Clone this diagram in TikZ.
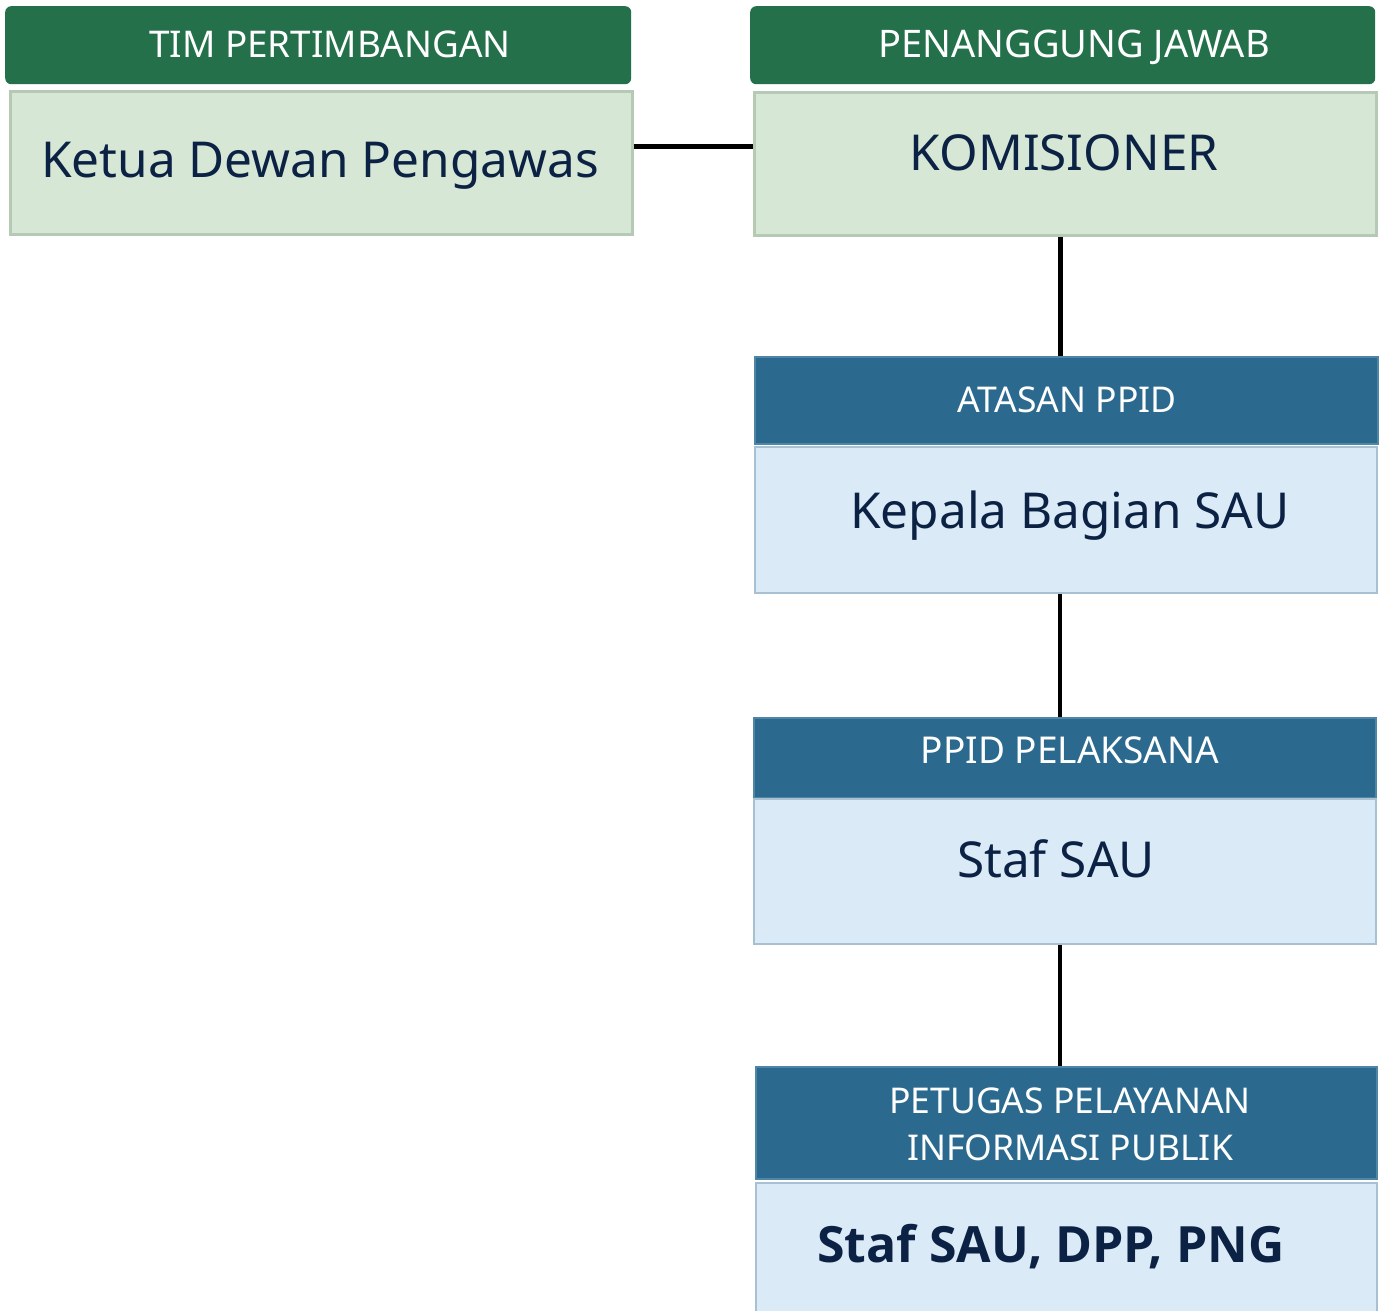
\documentclass[tikz,border=0pt]{standalone}
\usepackage{fontspec}
\setmainfont{Noto Sans}
\newfontfamily\boldfam{Open Sans}
\definecolor{hgreen}{HTML}{23704A}
\definecolor{bgreen}{HTML}{D6E8D5}
\definecolor{lgreen}{HTML}{B5C9B5}
\definecolor{hblue}{HTML}{2B6A8E}
\definecolor{hblueline}{HTML}{4F86A6}
\definecolor{bblue}{HTML}{DAEAF6}
\definecolor{lblue}{HTML}{A9BFD2}
\definecolor{navy}{HTML}{0C2244}
\begin{document}
\begin{tikzpicture}[x=1pt,y=-1pt,
  greenhead/.style={fill=hgreen, draw=none, rounded corners=6pt, anchor=north west, inner sep=0pt},
  greenbody/.style={fill=bgreen, draw=lgreen, line width=3pt, anchor=north west, inner sep=0pt},
  bluehead/.style={fill=hblue, draw=hblueline, line width=1.5pt, anchor=north west, inner sep=0pt},
  bluebody/.style={fill=bblue, draw=lblue, line width=2pt, anchor=north west, inner sep=0pt},
  headtxt/.style={text=white, anchor=base, inner sep=0pt, font=\fontsize{37.5}{44}\selectfont},
  bheadtxt/.style={text=white, anchor=base, inner sep=0pt, align=center, font=\fontsize{35.5}{47}\selectfont},
  bodytxt/.style={text=navy, anchor=base, inner sep=0pt, font=\fontsize{49.5}{56}\selectfont},
  conn/.style={draw=black, line width=4.5pt}
]
\useasboundingbox (0,0) rectangle (1381,1311);
\fill[white] (0,0) rectangle (1381,1311);

% boxes
\node[greenhead, minimum width=626, minimum height=78] (h1) at (5,6) {};
\node[greenbody, minimum width=622, minimum height=142] (b1) at (8.5,90.5) {};
\node[greenhead, minimum width=625, minimum height=78] (h2) at (750,6) {};
\node[greenbody, minimum width=622, minimum height=142] (b2) at (752.5,91.5) {};

\node[bluehead, minimum width=623, minimum height=87] (h3) at (754,356) {};
\node[bluebody, minimum width=622, minimum height=146] (b3) at (754,445.5) {};
\node[bluehead, minimum width=622, minimum height=80] (h4) at (753,717) {};
\node[bluebody, minimum width=622, minimum height=145] (b4) at (753,797.5) {};
\node[bluehead, minimum width=621, minimum height=112] (h5) at (755,1066) {};
\node[bluebody, minimum width=621, minimum height=140] (b5) at (755,1182) {};

% texts
\node[headtxt, font=\fontsize{36.8}{44}\selectfont] (t1) at (330,58) {TIM PERTIMBANGAN};
\node[bodytxt] (t2) at (320,177) {Ketua Dewan Pengawas};
\node[headtxt, font=\fontsize{38}{44}\selectfont] (t3) at (1074,58) {PENANGGUNG JAWAB};
\node[bodytxt] (t4) at (1064,170) {KOMISIONER};
\node[bheadtxt] (t5) at (1067,412) {ATASAN PPID};
\node[bodytxt] (t6) at (1070,528) {Kepala Bagian SAU};
\node[bheadtxt, font=\fontsize{37}{47}\selectfont] (t7) at (1070,763) {PPID PELAKSANA};
\node[bodytxt] (t8) at (1056,877) {Staf SAU};
\node[bheadtxt, anchor=north] (t9) at (1070,1088) {PETUGAS PELAYANAN\\INFORMASI PUBLIK};
\node[bodytxt, font=\boldfam\bfseries\fontsize{50}{56}\selectfont] (t10) at (1051,1262) {Staf SAU, DPP, PNG};

% connectors
\draw[conn] ([yshift=16.5pt]b1.east) -- ([yshift=16.5pt]b1.east -| b2.west);
\draw[conn] ([xshift=-4.5pt]b2.south) -- ([xshift=-4.5pt]b2.south |- h3.north);
\draw[conn] ([xshift=-6pt]b3.south) -- ([xshift=-6pt]b3.south |- h4.north);
\draw[conn] ([xshift=-5pt]b4.south) -- ([xshift=-5pt]b4.south |- h5.north);
\end{tikzpicture}
\end{document}
